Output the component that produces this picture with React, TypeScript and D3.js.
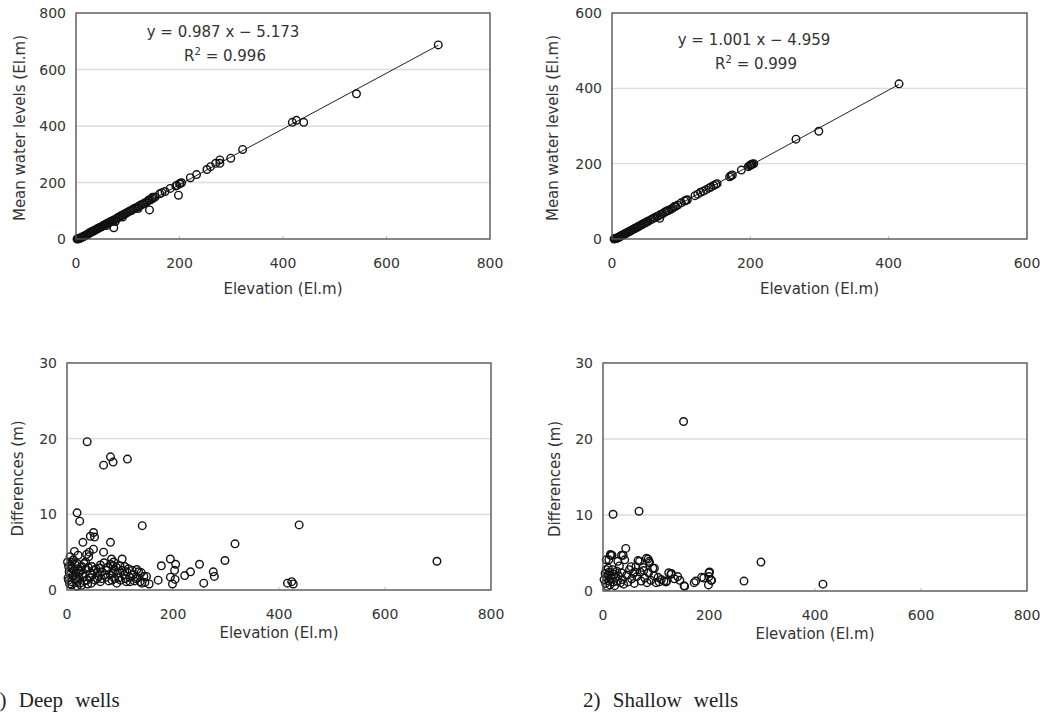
import React from 'react';
import * as d3 from 'd3';

// Deep wells: [elevation, mean water level]
const deepLevels: [number, number][] = [
  [2, 0], [4, 1], [5, 2], [6, 1], [8, 3], [9, 4], [10, 5], [12, 6], [13, 8], [15, 9],
  [16, 11], [18, 12], [20, 14], [22, 16], [24, 18], [25, 21], [27, 22], [29, 24], [30, 26], [32, 27],
  [34, 28], [36, 31], [38, 33], [40, 34], [42, 37], [44, 39], [46, 41], [48, 42], [50, 44], [52, 47],
  [54, 49], [56, 50], [58, 53], [60, 54], [62, 57], [64, 58], [66, 61], [68, 62], [70, 64], [72, 66],
  [75, 68], [77, 71], [80, 74], [82, 77], [85, 79], [88, 83], [90, 85], [93, 88], [96, 90], [98, 93],
  [101, 96], [104, 99], [107, 101], [110, 105], [113, 108], [116, 111], [119, 113], [122, 117], [125, 120], [128, 122],
  [131, 126], [134, 128], [137, 132], [140, 136], [144, 139], [147, 142], [150, 146], [153, 149], [141, 138], [148, 148],
  [60, 48], [76, 62], [90, 78], [120, 108], [73, 40], [142, 103], [162, 160], [166, 164], [172, 168], [182, 179],
  [193, 188], [195, 190], [200, 195], [201, 197], [204, 199], [198, 155], [221, 217], [233, 228], [253, 246], [260, 256],
  [270, 268], [278, 268], [278, 280], [299, 286], [322, 317], [418, 413], [426, 420], [440, 413], [542, 514], [700, 687],
];

// Deep wells: [elevation, difference]
const deepDiffs: [number, number][] = [
  [38, 19.6], [69, 16.5], [82, 17.6], [87, 16.9], [114, 17.3], [19, 10.2], [24, 9.1], [142, 8.5], [438, 8.6], [317, 6.1],
  [698, 3.8], [298, 3.9], [250, 3.4], [276, 2.4], [278, 1.8], [258, 0.9], [233, 2.4], [222, 1.9], [195, 4.1], [205, 3.4],
  [203, 2.6], [195, 1.7], [204, 1.4], [199, 0.8], [178, 3.2], [172, 1.3], [155, 0.8], [150, 1.8], [416, 0.9], [424, 1.1],
  [427, 0.8], [104, 4.1], [82, 6.3], [69, 5.0], [50, 7.6], [52, 7.0], [44, 7.1], [50, 5.4], [30, 6.3], [37, 4.7],
  [42, 5.0], [14, 5.1], [84, 4.1], [82, 3.4], [87, 3.2], [6, 4.4], [9, 3.7], [3, 3.1], [13, 2.6], [6, 2.0],
  [16, 1.5], [3, 1.3], [9, 0.7], [19, 0.5], [25, 0.9], [22, 2.2], [31, 1.8], [38, 1.3], [44, 2.2], [50, 2.6],
  [57, 1.5], [35, 3.7], [41, 4.4], [47, 3.1], [63, 3.3], [75, 2.6], [82, 2.0], [88, 3.7], [85, 1.3], [94, 0.9],
  [104, 2.6], [110, 1.5], [113, 2.4], [123, 2.6], [129, 1.5], [135, 2.4], [138, 1.1], [145, 1.8], [141, 0.9], [119, 1.1],
  [101, 1.3], [91, 2.6], [63, 1.1], [72, 2.0], [28, 3.1], [19, 3.5], [1, 3.7], [2, 1.6], [4, 2.4], [5, 0.8],
  [7, 3.2], [8, 1.1], [10, 2.9], [11, 1.9], [12, 4.0], [15, 3.4], [17, 2.2], [18, 1.0], [20, 2.8], [21, 4.6],
  [23, 1.6], [26, 2.5], [27, 0.6], [29, 2.1], [32, 3.5], [33, 1.2], [36, 2.8], [39, 0.8], [40, 3.0], [43, 1.6],
  [46, 0.9], [48, 2.0], [53, 1.3], [55, 2.8], [58, 2.3], [60, 1.8], [62, 2.9], [65, 1.5], [66, 2.4], [70, 3.6],
  [74, 1.7], [77, 3.0], [79, 1.2], [86, 2.5], [90, 1.5], [93, 3.0], [96, 2.2], [98, 1.6], [100, 3.2], [107, 2.0],
  [109, 3.1], [112, 1.1], [116, 2.8], [118, 1.7], [125, 2.0], [127, 1.2], [132, 2.7], [134, 1.6], [140, 2.3], [147, 1.0],
];

// Shallow wells: [elevation, mean water level]
const shallowLevels: [number, number][] = [
  [3, 0], [4, 1], [5, 1], [6, 2], [7, 2], [8, 3], [9, 4], [10, 5], [11, 6], [12, 7],
  [13, 8], [14, 9], [15, 10], [16, 11], [17, 12], [18, 13], [20, 15], [21, 16], [22, 17], [24, 19],
  [25, 20], [27, 22], [28, 23], [30, 25], [32, 27], [33, 28], [35, 30], [37, 32], [38, 33], [40, 35],
  [42, 37], [44, 39], [45, 40], [47, 42], [49, 44], [50, 45], [52, 47], [55, 50], [57, 52], [60, 55],
  [62, 57], [65, 60], [67, 61], [69, 55], [70, 65], [73, 67], [76, 71], [78, 73], [80, 75], [82, 76],
  [85, 79], [88, 82], [90, 86], [92, 87], [95, 90], [100, 96], [105, 101], [107, 103], [109, 104], [120, 115],
  [124, 119], [128, 124], [132, 127], [136, 131], [140, 135], [143, 138], [147, 142], [150, 145], [152, 147], [170, 165],
  [172, 168], [174, 170], [187, 183], [197, 192], [199, 194], [200, 196], [201, 197], [202, 198], [203, 199], [205, 200],
  [266, 265], [299, 286], [415, 412],
];

// Shallow wells: [elevation, difference]
const shallowDiffs: [number, number][] = [
  [152, 22.3], [19, 10.1], [68, 10.5], [298, 3.8], [266, 1.3], [415, 0.9], [43, 5.6], [17, 4.7], [11, 4.1], [14, 4.8],
  [35, 4.7], [41, 4.1], [82, 4.3], [87, 3.9], [66, 4.0], [94, 3.0], [200, 2.4], [200, 1.9], [205, 1.4], [199, 0.8],
  [186, 1.8], [172, 1.1], [175, 1.3], [153, 0.7], [128, 2.2], [141, 1.9], [145, 1.4], [135, 1.6], [106, 1.2], [110, 1.5],
  [120, 1.3], [14.5, 4.7], [6, 4.1], [38, 4.7], [28, 3.9], [69, 3.9], [85, 4.2], [88, 3.7], [97, 3.0], [53, 3.2],
  [60, 2.5], [77, 2.7], [129, 2.3], [119, 1.2], [154, 0.6], [201, 2.5], [204, 1.4], [190, 1.7], [2, 1.5], [4, 2.3],
  [5, 1.0], [6, 2.8], [7, 1.8], [8, 0.6], [9, 2.1], [10, 3.0], [11, 1.3], [12, 2.5], [13, 0.8], [15, 2.0],
  [16, 1.6], [18, 2.8], [20, 1.2], [21, 2.2], [22, 0.7], [24, 1.8], [26, 2.6], [27, 1.3], [29, 2.0], [31, 3.3],
  [33, 1.1], [35, 2.4], [37, 1.5], [39, 0.9], [45, 2.1], [47, 1.2], [50, 2.8], [54, 1.6], [57, 2.3], [59, 1.0],
  [62, 3.2], [64, 1.9], [70, 2.5], [72, 1.3], [75, 3.1], [79, 1.7], [83, 1.1], [86, 2.4], [90, 1.4], [96, 2.0],
  [100, 1.1], [104, 1.8], [115, 1.3], [124, 2.4],
];

const ticks800 = [0, 200, 400, 600, 800];
const ticks600 = [0, 200, 400, 600];
const ticks30 = [0, 10, 20, 30];

const FONT = '"DejaVu Sans", "Liberation Sans", sans-serif';

type PanelProps = {
  id: string;
  left: number; top: number; right: number; bottom: number;
  xMax: number; yMax: number;
  xTicks: number[]; yTicks: number[];
  points: [number, number][];
  yLabel: string; yLabelX: number;
  fit?: { slope: number; intercept: number; eq: string; r2: string; cx: number; cy: number };
};

function Panel(p: PanelProps) {
  const x = d3.scaleLinear().domain([0, p.xMax]).range([p.left, p.right]);
  const y = d3.scaleLinear().domain([0, p.yMax]).range([p.bottom, p.top]);
  const fitX = p.fit ? [0, d3.max(p.points, d => d[0]) as number] : [];
  const fitLine = d3.line<number>().x(v => x(v)).y(v => y(p.fit!.slope * v + p.fit!.intercept));

  return (
    <g>
      <defs>
        <clipPath id={p.id}>
          <rect x={p.left} y={p.top} width={p.right - p.left} height={p.bottom - p.top} />
        </clipPath>
      </defs>
      {/* gridlines */}
      {p.yTicks.slice(1, -1).map(t => (
        <line key={t} x1={p.left} x2={p.right} y1={y(t)} y2={y(t)} stroke="#dcdcdc" strokeWidth={1.3} />
      ))}
      {/* inner x ticks */}
      {p.xTicks.slice(1, -1).map(t => (
        <line key={t} x1={x(t)} x2={x(t)} y1={p.bottom} y2={p.bottom - 3} stroke="#bbb" strokeWidth={1} />
      ))}
      {p.fit && (
        <path d={fitLine(fitX) || ''} fill="none" stroke="#222" strokeWidth={1} clipPath={`url(#${p.id})`} />
      )}
      {p.points.map((d, i) => (
        <circle key={i} cx={x(d[0])} cy={y(d[1])} r={3.8} fill="none" stroke="#111" strokeWidth={1.4} />
      ))}
      <rect x={p.left} y={p.top} width={p.right - p.left} height={p.bottom - p.top}
        fill="none" stroke="#555" strokeWidth={1.4} />
      {/* tick labels */}
      {p.yTicks.map(t => (
        <text key={t} x={p.left - 10} y={y(t)} dy="0.36em" textAnchor="end" fontSize={14} fill="#333">{t}</text>
      ))}
      {p.xTicks.map(t => (
        <text key={t} x={x(t)} y={p.bottom + 29} textAnchor="middle" fontSize={14} fill="#333">{t}</text>
      ))}
      <text x={(p.left + p.right) / 2} y={p.bottom + (p.top < 100 ? 55 : 48)} textAnchor="middle" fontSize={15} fill="#333">
        Elevation (El.m)
      </text>
      <text transform={`translate(${p.yLabelX},${(p.top + p.bottom) / 2 + 2}) rotate(-90)`} dy="0.35em"
        textAnchor="middle" fontSize={15} fill="#333">{p.yLabel}</text>
      {p.fit && (
        <g fontSize={15} fill="#333" textAnchor="middle">
          <text x={p.fit.cx} y={p.fit.cy}>{p.fit.eq}</text>
          <text x={p.fit.cx + 2} y={p.fit.cy + 24}>
            R<tspan fontSize={10} dy={-6}>2</tspan><tspan dy={6}> = {p.fit.r2}</tspan>
          </text>
        </g>
      )}
    </g>
  );
}

export default function App() {
  return (
    <svg width={1044} height={715} style={{ position: 'absolute', left: 0, top: 0, background: '#fff' }}
      fontFamily={FONT}>
      <Panel id="c1" left={76} top={13} right={490} bottom={239} xMax={800} yMax={800}
        xTicks={ticks800} yTicks={ticks800} points={deepLevels}
        yLabel="Mean water levels (El.m)" yLabelX={20}
        fit={{ slope: 0.987, intercept: -5.173, eq: 'y = 0.987 x − 5.173', r2: '0.996', cx: 223, cy: 37 }} />
      <Panel id="c2" left={612} top={13} right={1027} bottom={239} xMax={600} yMax={600}
        xTicks={ticks600} yTicks={ticks600} points={shallowLevels}
        yLabel="Mean water levels (El.m)" yLabelX={553}
        fit={{ slope: 1.001, intercept: -4.959, eq: 'y = 1.001 x − 4.959', r2: '0.999', cx: 754, cy: 45 }} />
      <Panel id="c3" left={67} top={363} right={491} bottom={590} xMax={800} yMax={30}
        xTicks={ticks800} yTicks={ticks30} points={deepDiffs}
        yLabel="Differences (m)" yLabelX={18} />
      <Panel id="c4" left={603} top={363} right={1027} bottom={591} xMax={800} yMax={30}
        xTicks={ticks800} yTicks={ticks30} points={shallowDiffs}
        yLabel="Differences (m)" yLabelX={555} />
      <g fontFamily='"Liberation Serif", "DejaVu Serif", serif' fontSize={21} fill="#222" wordSpacing={7}>
        <text x={-11} y={707}>1) Deep wells</text>
        <text x={583} y={707}>2) Shallow wells</text>
      </g>
    </svg>
  );
}
